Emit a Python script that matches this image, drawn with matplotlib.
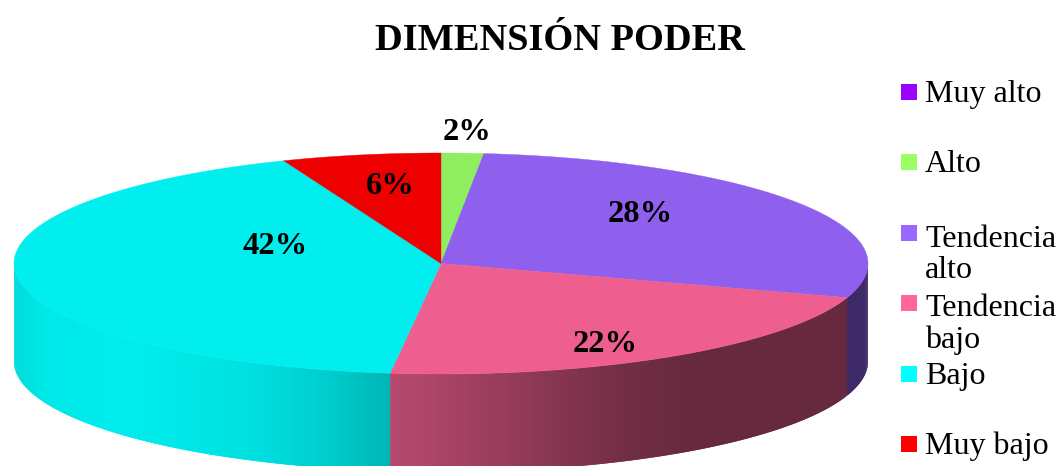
import numpy as np
import matplotlib
matplotlib.use("Agg")
import matplotlib.pyplot as plt
from matplotlib.patches import Polygon, Rectangle

TITLE = "DIMENSIÓN PODER"
CATEGORIES = ["Muy alto", "Alto", "Tendencia\nalto", "Tendencia\nbajo", "Bajo", "Muy bajo"]
# slice sizes, the labels show them rounded
VALUES = [0, 1.6, 28.4, 21.9, 42.1, 6]
LEGEND_COLORS = ["#9900FF", "#99FF66", "#9966FF", "#FF6699", "#00FFFF", "#FF0000"]

# pie geometry in image pixels
CX, CY = 441, 263.5
RX, RY = 427, 110.5
DEPTH = 98
TOP_SHADE = 0.935

# percent labels, one per non-empty slice
LABEL_POS = {1: (467, 133), 2: (640, 215), 3: (605, 345), 4: (275, 247), 5: (390, 187)}


def ellipse_xy(theta):
    # theta is clockwise from 12 o'clock, in degrees
    t = np.radians(theta)
    return CX + RX * np.sin(t), CY - RY * np.cos(t)


def wall_shade(x, slice_idx):
    # lighting on the side wall depends on where we are across the pie
    if slice_idx == 4:
        return np.interp(x, [14, 45, 130, 250, 330, 391], [0.86, 0.91, 0.925, 0.88, 0.80, 0.71])
    return np.interp(x, [391, 500, 620, 700, 868], [0.72, 0.60, 0.45, 0.40, 0.40])


plt.rcParams["font.family"] = ["Liberation Serif", "DejaVu Serif"]
fig = plt.figure(figsize=(10.61, 4.66), dpi=100)
ax = fig.add_axes([0, 0, 1, 1])
ax.set_xlim(0, 1061)
ax.set_ylim(466, 0)
ax.axis("off")

edges = 3.6 * np.concatenate([[0], np.cumsum(VALUES)])

# side wall, only the front half of the disc shows
for i, val in enumerate(VALUES):
    start, end = max(edges[i], 90), min(edges[i + 1], 270)
    if val == 0 or start >= end:
        continue
    base = np.array(matplotlib.colors.to_rgb(LEGEND_COLORS[i]))
    steps = np.linspace(start, end, int((end - start) * 2) + 2)
    # each strip runs on to the end of the next one, that hides the seams
    for j in range(len(steps) - 1):
        a, b = steps[j], steps[min(j + 2, len(steps) - 1)]
        arc = np.linspace(a, b, 6)
        xs, ys = ellipse_xy(arc)
        col = base * wall_shade(ellipse_xy((steps[j] + steps[j + 1]) / 2)[0], i)
        pts = np.column_stack([np.r_[xs, xs[::-1]], np.r_[ys, ys[::-1] + DEPTH]])
        ax.add_patch(Polygon(pts, facecolor=col, edgecolor="none", linewidth=0))

# top of the disc
for i, val in enumerate(VALUES):
    if val == 0:
        continue
    theta = np.linspace(edges[i], edges[i + 1], 200)
    xs, ys = ellipse_xy(theta)
    pts = np.column_stack([np.r_[CX, xs], np.r_[CY, ys]])
    col = np.array(matplotlib.colors.to_rgb(LEGEND_COLORS[i])) * TOP_SHADE
    ax.add_patch(Polygon(pts, facecolor=col, edgecolor=col, linewidth=0.3))

for i, (x, y) in LABEL_POS.items():
    ax.text(x, y, f"{round(VALUES[i])}%", fontsize=23.4, fontweight="bold", ha="center", va="center")

ax.text(560, 40, TITLE, fontsize=27.6, fontweight="bold", ha="center", va="center")

# legend, hand placed since the wrapped entries break the spacing
for i, (label, col) in enumerate(zip(CATEGORIES, LEGEND_COLORS)):
    yc = 92 + i * 70.4
    ax.add_patch(Rectangle((901, yc - 8), 16, 16, facecolor=col, edgecolor="none"))
    # va="baseline" goes by the last line of a wrapped label
    baseline = yc + 10 + 35 * label.count("\n")
    ax.text(925, baseline, label, fontsize=23, ha="left", va="baseline", linespacing=1.1)

fig.savefig("out.png", dpi=100)
plt.close(fig)
